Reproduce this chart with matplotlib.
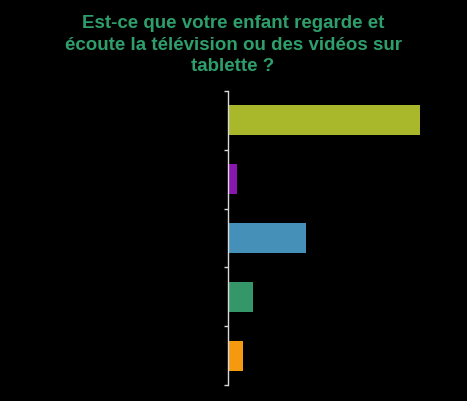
import matplotlib
matplotlib.use('Agg')
import matplotlib.pyplot as plt

# valeurs (en %), de haut en bas
categories = ['Réponse 1', 'Réponse 2', 'Réponse 3', 'Réponse 4', 'Réponse 5']
values = [60, 3, 24.5, 8, 4.7]
colors = ['#A8B82A', '#8A16B0', '#4590B8', '#35966A', '#F59A0E']

title = "Est-ce que votre enfant regarde et\nécoute la télévision ou des vidéos sur\ntablette ?"

fig = plt.figure(figsize=(4.67, 4.02), dpi=100, facecolor='black')
ax = fig.add_axes([0.488, 0.040, 0.454, 0.731], facecolor='black')

pos = list(range(len(categories)))
ax.barh(pos, values, height=0.51, color=colors)
ax.set_ylim(len(categories) - 0.5, -0.5)
ax.set_xlim(0, 66.3)

# ticks aux limites des catégories, sans étiquettes (noir sur noir dans l'original)
ax.set_yticks([i - 0.5 for i in range(len(categories) + 1)])
ax.set_yticklabels([])
ax.tick_params(axis='y', length=3, width=1, color='#D9D9D9', direction='out')
ax.set_xticks([])
for s in ['top', 'right', 'bottom']:
    ax.spines[s].set_visible(False)
ax.spines['left'].set_color('#D9D9D9')
ax.spines['left'].set_linewidth(1)

fig.text(0.499, 0.962, title, ha='center', va='top', color='#2E9E6B',
         fontsize=13.5, fontweight='bold', family='Liberation Sans', linespacing=1.33)

fig.savefig('out.png', dpi=100, facecolor='black')
